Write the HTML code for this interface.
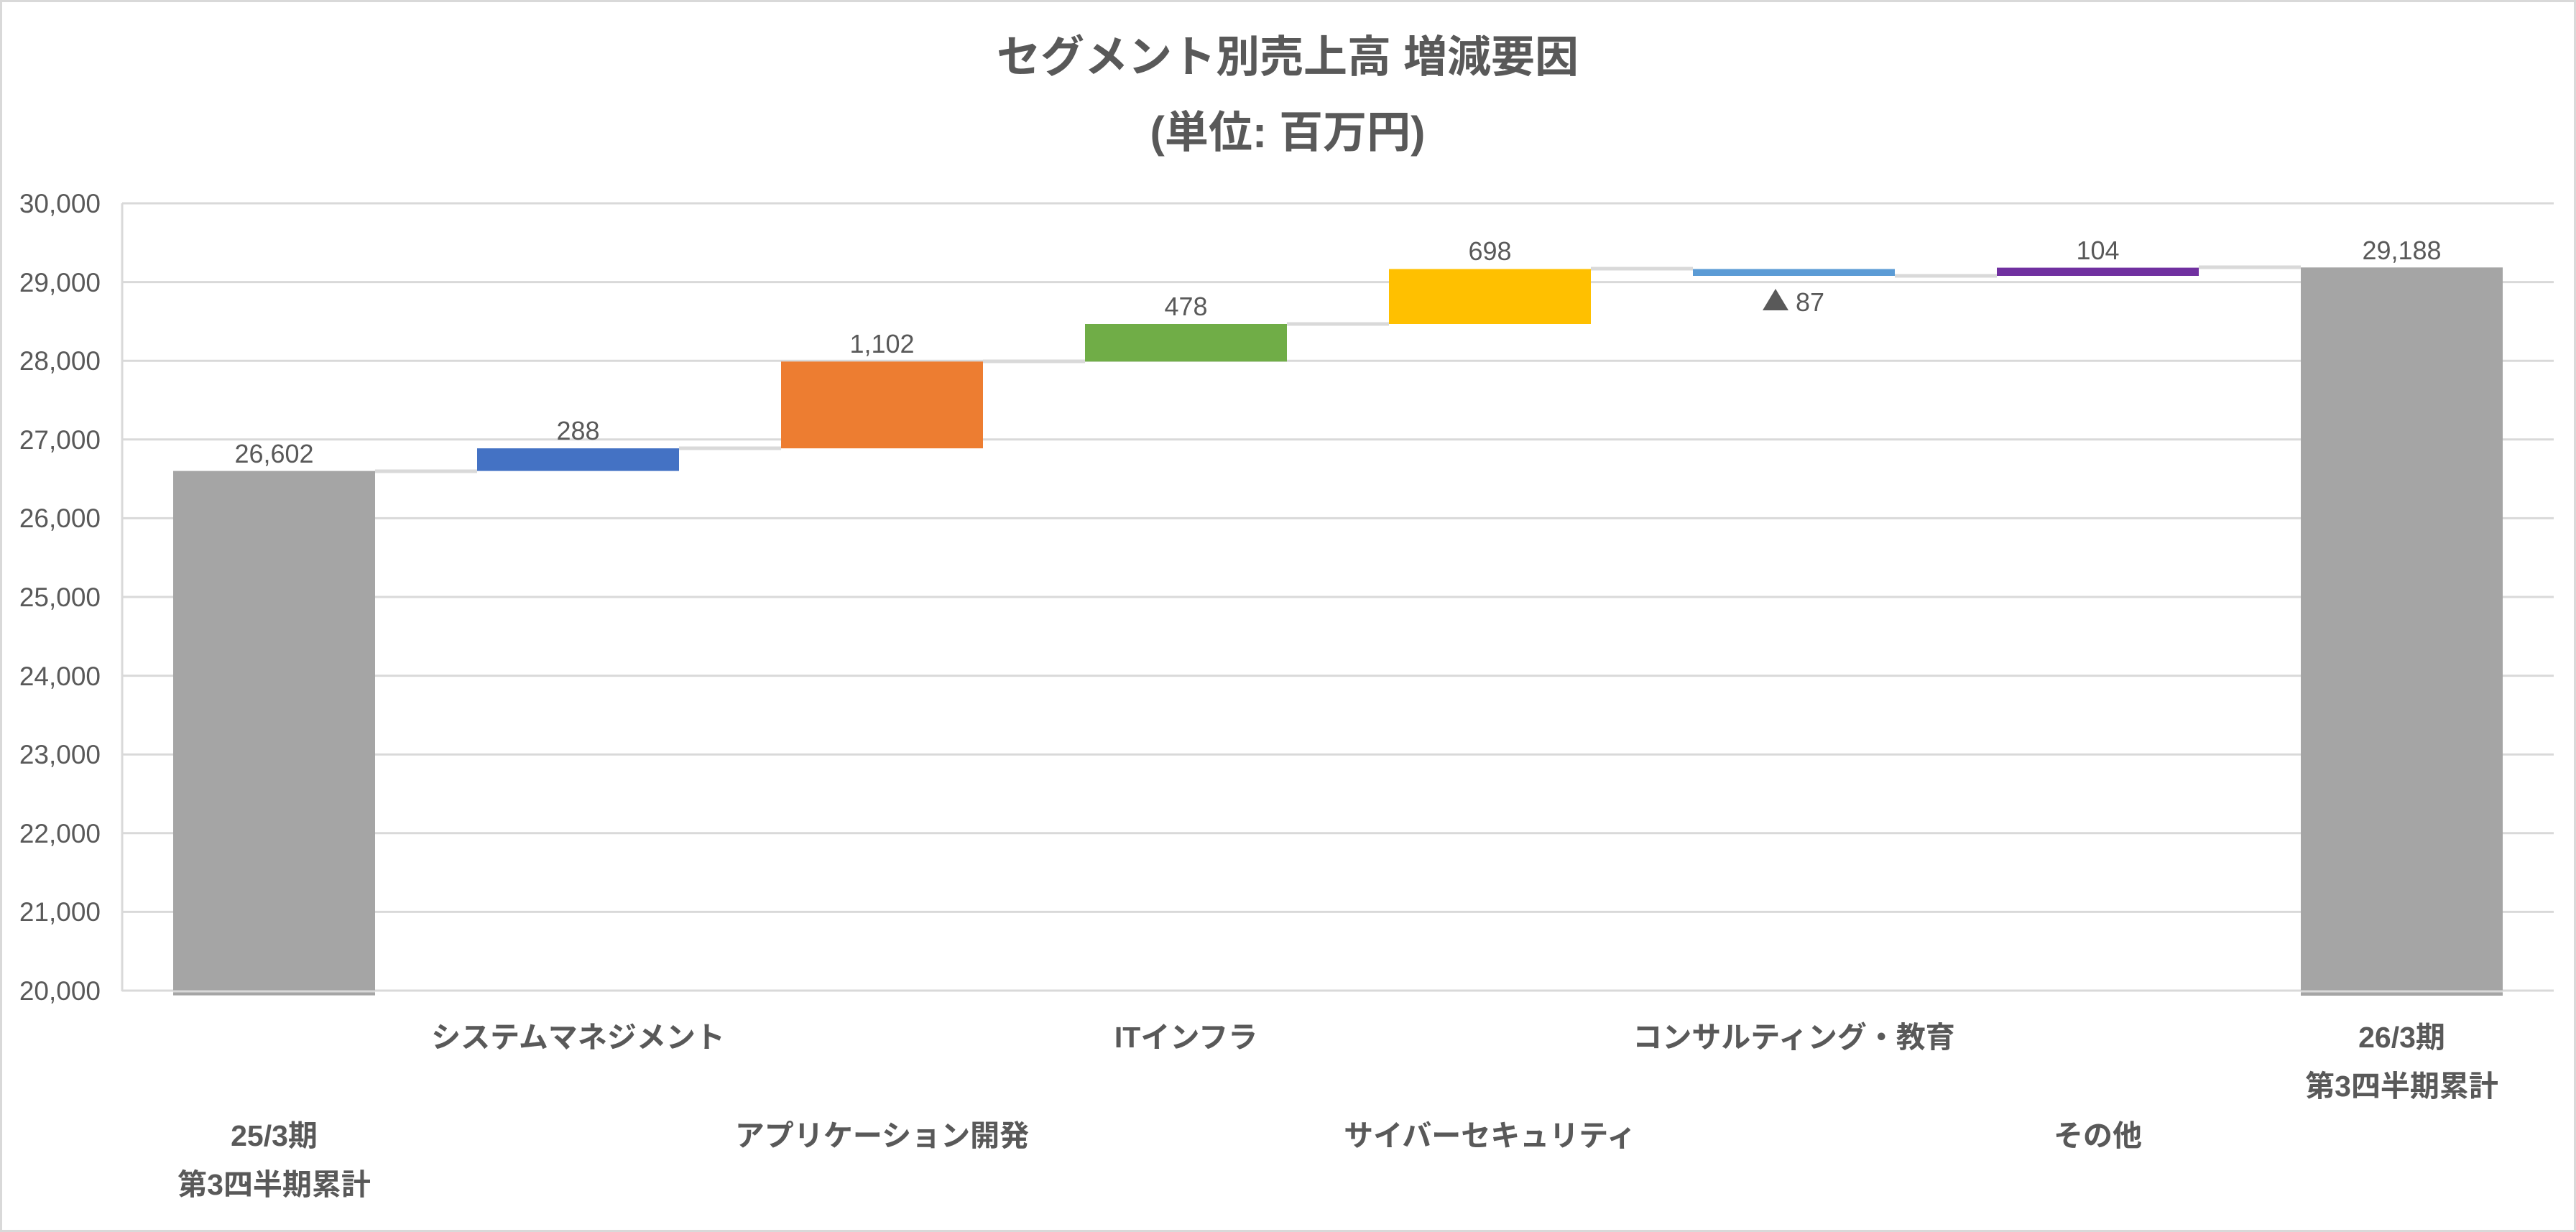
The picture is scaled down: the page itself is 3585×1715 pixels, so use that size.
<!DOCTYPE html>
<html><head><meta charset="utf-8"><style>
html,body{margin:0;padding:0;background:#fff;}
svg{display:block;}
text{font-family:"Liberation Sans","Noto Sans CJK JP",sans-serif;fill:#595959;}
</style></head><body>
<svg width="3585" height="1715" viewBox="0 0 3585 1715" xmlns="http://www.w3.org/2000/svg">
<rect x="1.5" y="1.5" width="3582" height="1712" fill="#fff" stroke="#d9d9d9" stroke-width="3"/>
<text x="1792" y="100" font-size="61" font-weight="bold" text-anchor="middle">セグメント別売上高 増減要因</text>
<text x="1792" y="205" font-size="61" font-weight="bold" text-anchor="middle">(単位: 百万円)</text>
<g stroke="#d9d9d9" stroke-width="3">
<line x1="170" y1="283" x2="3554" y2="283"/>
<line x1="170" y1="392.6" x2="3554" y2="392.6"/>
<line x1="170" y1="502.2" x2="3554" y2="502.2"/>
<line x1="170" y1="611.8" x2="3554" y2="611.8"/>
<line x1="170" y1="721.4" x2="3554" y2="721.4"/>
<line x1="170" y1="831" x2="3554" y2="831"/>
<line x1="170" y1="940.6" x2="3554" y2="940.6"/>
<line x1="170" y1="1050.2" x2="3554" y2="1050.2"/>
<line x1="170" y1="1159.8" x2="3554" y2="1159.8"/>
<line x1="170" y1="1269.4" x2="3554" y2="1269.4"/>
<line x1="170" y1="1379" x2="3554" y2="1379"/>
<line x1="170" y1="283" x2="170" y2="1380"/>
</g>
<g font-size="37" text-anchor="end">
<text x="140" y="296">30,000</text>
<text x="140" y="406">29,000</text>
<text x="140" y="515">28,000</text>
<text x="140" y="625">27,000</text>
<text x="140" y="734">26,000</text>
<text x="140" y="844">25,000</text>
<text x="140" y="954">24,000</text>
<text x="140" y="1063">23,000</text>
<text x="140" y="1173">22,000</text>
<text x="140" y="1282">21,000</text>
<text x="140" y="1392">20,000</text>
</g>
<g stroke="#d9d9d9" stroke-width="5">
<line x1="522" y1="656" x2="664" y2="656"/>
<line x1="945" y1="624" x2="1087" y2="624"/>
<line x1="1368" y1="503" x2="1510" y2="503"/>
<line x1="1791" y1="451" x2="1933" y2="451"/>
<line x1="2214" y1="374" x2="2356" y2="374"/>
<line x1="2637" y1="384" x2="2779" y2="384"/>
<line x1="3060" y1="372" x2="3202" y2="372"/>
</g>
<rect x="241" y="655.6" width="281" height="730" fill="#a5a5a5"/>
<rect x="664" y="624.1" width="281" height="31.5" fill="#4472c4"/>
<rect x="1087" y="503.3" width="281" height="120.8" fill="#ed7d31"/>
<rect x="1510" y="451" width="281" height="52.3" fill="#70ad47"/>
<rect x="1933" y="374.5" width="281" height="76.5" fill="#ffc000"/>
<rect x="2356" y="374.5" width="281" height="9.5" fill="#5b9bd5"/>
<rect x="2779" y="372.6" width="281" height="11.4" fill="#7030a0"/>
<rect x="3202" y="372.3" width="281" height="1013.7" fill="#a5a5a5"/>
<line x1="241" y1="1380" x2="522" y2="1380" stroke="#d9d9d9" stroke-width="3"/>
<line x1="3202" y1="1380" x2="3483" y2="1380" stroke="#d9d9d9" stroke-width="3"/>
<g font-size="36" text-anchor="middle">
<text x="381.5" y="644">26,602</text>
<text x="804.5" y="612">288</text>
<text x="1227.5" y="491">1,102</text>
<text x="1650.5" y="439">478</text>
<text x="2073.5" y="362">698</text>
<text x="2519" y="433">87</text>
<text x="2919.5" y="361">104</text>
<text x="3342.5" y="361">29,188</text>
</g>
<polygon points="2453,432 2489,432 2471,402" fill="#595959"/>
<g font-size="41" font-weight="bold" text-anchor="middle">
<text x="804.5" y="1458">システムマネジメント</text>
<text x="1650.5" y="1458">ITインフラ</text>
<text x="2496.5" y="1458">コンサルティング・教育</text>
<text x="3342.5" y="1458">26/3期</text>
<text x="3342.5" y="1526">第3四半期累計</text>
<text x="381.5" y="1595">25/3期</text>
<text x="381.5" y="1663">第3四半期累計</text>
<text x="1227.5" y="1595">アプリケーション開発</text>
<text x="2073.5" y="1595">サイバーセキュリティ</text>
<text x="2919.5" y="1595">その他</text>
</g>
</svg>
</body></html>
